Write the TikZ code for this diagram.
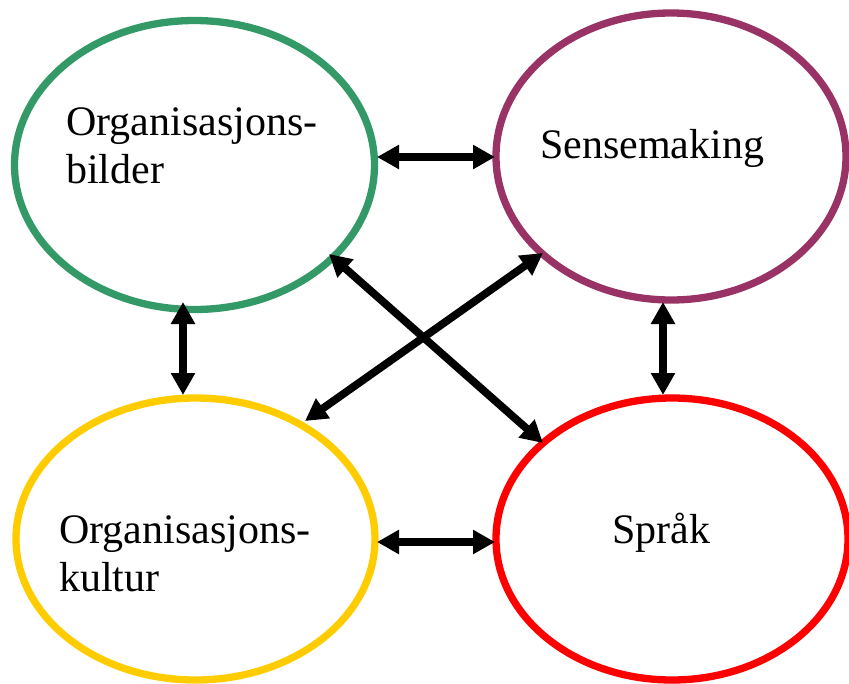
\documentclass[tikz,border=0pt]{standalone}
\usepackage{fontspec}
\setmainfont{Liberation Serif}
\usetikzlibrary{arrows.meta,shapes.geometric}
\definecolor{gcol}{RGB}{51,153,102}
\definecolor{pcol}{RGB}{153,51,102}
\definecolor{ycol}{RGB}{255,204,0}
\definecolor{rcol}{RGB}{255,0,0}
\tikzset{
  oval/.style={ellipse, line width=7.3pt, inner sep=0pt, outer sep=0pt, fill=none},
  lbl/.style={anchor=base west, inner sep=0pt, font=\fontsize{42}{48}\selectfont},
  link/.style={line width=7.8pt, {Triangle[length=22pt,width=23pt]}-{Triangle[length=22pt,width=23pt]}}
}
\newcommand{\twolines}[2]{\vtop{\baselineskip=48pt\hbox{#1}\hbox{#2}}}
\begin{document}
\begin{tikzpicture}[x=1pt,y=-1pt]
\useasboundingbox (0,0) rectangle (849,683);
% ellipses
\node[oval, draw=gcol, minimum width=360pt, minimum height=289pt] (g) at (194.5,165) {};
\node[oval, draw=pcol, minimum width=350pt, minimum height=287pt] (p) at (671,156.5) {};
\node[oval, draw=ycol, minimum width=359pt, minimum height=282pt] (y) at (195.5,539) {};
\node[oval, draw=rcol, minimum width=352pt, minimum height=282pt] (r) at (672,539) {};
% labels
\node[lbl] (gt) at (66,135) {\twolines{Organisasjons-}{bilder}};
\node[lbl] (pt) at (540,158) {Sensemaking};
\node[lbl] (yt) at (59,543) {\twolines{Organisasjons-}{kultur}};
\node[lbl] (rt) at (612,543) {Språk};
% arrow end points
\coordinate (gR) at (377,157);
\coordinate (pL) at (495,157);
\coordinate (yR) at (377,542);
\coordinate (rL) at (495,542);
\coordinate (gB) at (183,302);
\coordinate (yT) at (183,395);
\coordinate (pB) at (663,302);
\coordinate (rT) at (663,395);
\coordinate (gD) at (329,254);
\coordinate (rD) at (543,443);
\coordinate (pD) at (543,253);
\coordinate (yD) at (305,421);
% connectors
\draw[link] (gR) -- (pL);
\draw[link] (yR) -- (rL);
\draw[link] (gB) -- (yT);
\draw[link] (pB) -- (rT);
\draw[link] (gD) -- (rD);
\draw[link] (pD) -- (yD);
\end{tikzpicture}
\end{document}
